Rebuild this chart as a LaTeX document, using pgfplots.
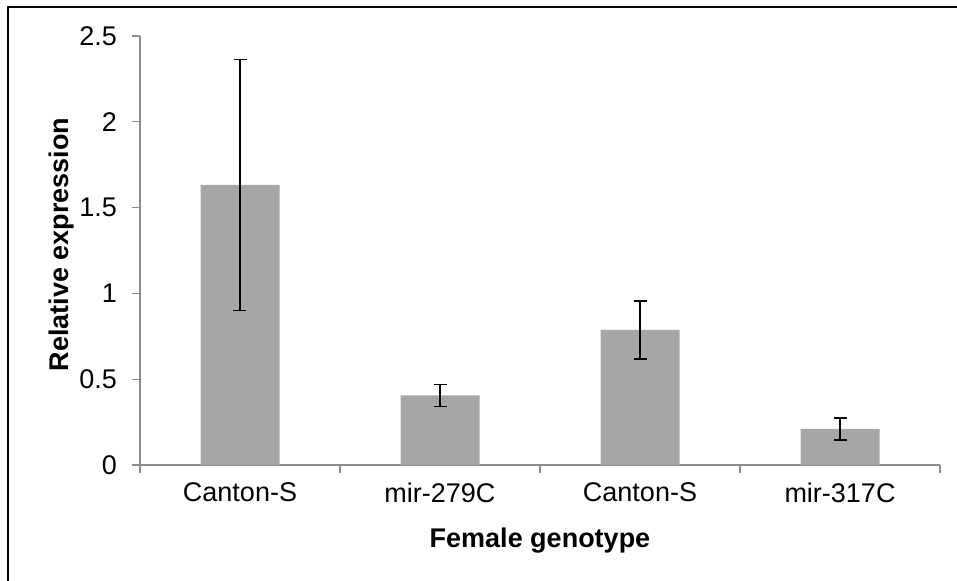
\documentclass[border=0pt]{standalone}
\usepackage{pgfplots}
\pgfplotsset{compat=1.18}
\usepackage{fontspec}
\setmainfont{Liberation Sans}
\definecolor{bargray}{HTML}{A6A6A6}
\definecolor{axisgray}{HTML}{8C8C8C}
\begin{document}
\begin{tikzpicture}
% 1 px of the reference = 0.5 pt
\path[use as bounding box] (-70pt,-58pt) rectangle (408.5pt,232.5pt);
\draw[line width=1.1pt] (-66pt,-60pt) -- (-66pt,229pt) -- (410pt,229pt);
\begin{axis}[
  at={(0,0)}, anchor=south west,
  scale only axis,
  width=400pt, height=214.5pt,
  xmin=0, xmax=4,
  ymin=0, ymax=2.5,
  axis lines*=left,
  axis line style={axisgray, line width=0.6pt},
  every tick/.style={axisgray, line width=0.6pt},
  tick align=outside,
  major tick length=4pt,
  xtick={0,1,2,3,4},
  xticklabels={},
  extra x ticks={0.5,1.5,2.5,3.5},
  extra x tick labels={Canton-S, mir-279C, Canton-S, mir-317C},
  extra x tick style={major tick length=0pt, xticklabel style={yshift=-5.5pt}},
  ytick={0,0.5,1,1.5,2,2.5},
  yticklabels={0,0.5,1,1.5,2,2.5},
  tick label style={font=\fontsize{13.5}{15}\selectfont, black},
  yticklabel style={xshift=-4pt},
  xlabel={Female genotype},
  label style={font=\fontsize{13.5}{15}\selectfont\bfseries},
  xlabel style={at={(rel axis cs:0.5,0)}, anchor=north, yshift=-28pt},
  clip=false,
]
\addplot[ybar, bar width=39.5pt, fill=bargray, draw=none,
  error bars/.cd, y dir=both, y explicit,
  error bar style={black, line width=0.6pt},
  error mark options={black, line width=0.6pt, mark size=3.25pt, rotate=90}]
  coordinates {
    (0.5,1.632) +- (0,0.731)
    (1.5,0.405) +- (0,0.064)
    (2.5,0.787) +- (0,0.169)
    (3.5,0.210) +- (0,0.064)
  };
\node[rotate=90, anchor=center, font=\fontsize{13.5}{15}\selectfont\bfseries]
  at ([xshift=-39pt, yshift=3pt]rel axis cs:0,0.5) {Relative expression};
\end{axis}
\end{tikzpicture}
\end{document}
